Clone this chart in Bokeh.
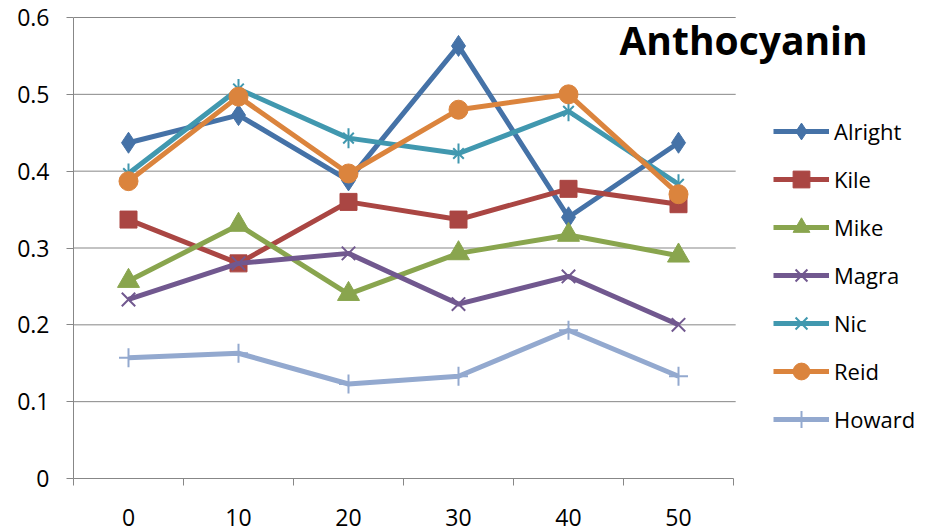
from bokeh.plotting import figure
from bokeh.models import (Range1d, FixedTicker, Legend, LegendItem, Label)
from bokeh.embed import file_html
from bokeh.resources import INLINE
import math

# Sampling points and anthocyanin readings per sample
categories = ["0", "10", "20", "30", "40", "50"]
alright = [0.437, 0.473, 0.388, 0.563, 0.340, 0.437]
kile = [0.337, 0.280, 0.360, 0.337, 0.377, 0.357]
mike = [0.257, 0.330, 0.240, 0.293, 0.317, 0.290]
magra = [0.233, 0.280, 0.293, 0.227, 0.263, 0.200]
nic = [0.397, 0.507, 0.443, 0.423, 0.478, 0.383]
reid = [0.387, 0.497, 0.397, 0.480, 0.500, 0.370]
howard = [0.157, 0.163, 0.123, 0.133, 0.193, 0.133]

y_ticks = [0, 0.1, 0.2, 0.3, 0.4, 0.5, 0.6]
y_tick_labels = ["0", "0.1", "0.2", "0.3", "0.4", "0.5", "0.6"]

FONT = "Open Sans"
GRID = "#878787"
PX_PER_CAT = 110  # horizontal pixels per category slot

xs = list(range(len(categories)))
n = len(categories)
left, top, bottom = 73, 16, 54
W, H = 932, 532

# the frame runs to the right edge so the legend and title can sit inside it;
# the category axis itself only spans the data slots
x_end = -0.5 + (W - left) / PX_PER_CAT
y_top = 0.6 + 0.6 / (H - top - bottom - 1)

p = figure(width=W, height=H, output_backend="svg", toolbar_location=None,
           x_range=Range1d(-0.5, x_end), y_range=Range1d(0, y_top),
           min_border_left=left, min_border_right=0, min_border_top=top,
           min_border_bottom=bottom)
p.outline_line_color = None
p.background_fill_color = "white"
p.border_fill_color = "white"

# y axis: outward ticks, value gridlines drawn over the category span only
p.yaxis.ticker = FixedTicker(ticks=y_ticks)
p.yaxis.bounds = (y_ticks[0], y_ticks[-1])
p.yaxis.major_label_overrides = dict(zip(y_ticks, y_tick_labels))
p.yaxis.axis_line_color = GRID
p.yaxis.major_tick_line_color = GRID
p.yaxis.major_tick_out = 7
p.yaxis.major_tick_in = 0
p.yaxis.minor_tick_line_color = None
p.yaxis.major_label_text_font = FONT
p.yaxis.major_label_text_font_size = "23px"
p.yaxis.major_label_text_color = "black"
p.yaxis.major_label_standoff = 17
p.ygrid.grid_line_color = None
p.xgrid.grid_line_color = None

grid_y = y_ticks[1:]
p.segment(x0=[-0.5] * len(grid_y), x1=[n - 0.48] * len(grid_y),
          y0=grid_y, y1=grid_y, line_color=GRID, line_width=1)

# x axis: labels at category centres, tick marks between categories
p.xaxis.ticker = FixedTicker(ticks=xs, minor_ticks=[i - 0.5 for i in range(n + 1)])
p.xaxis.bounds = (-0.5, n - 0.5)
p.xaxis.major_label_overrides = {i: c for i, c in enumerate(categories)}
p.xaxis.axis_line_color = GRID
p.xaxis.major_tick_line_color = None
p.xaxis.minor_tick_line_color = GRID
p.xaxis.minor_tick_out = 7
p.xaxis.minor_tick_in = 0
p.xaxis.major_label_text_font = FONT
p.xaxis.major_label_text_font_size = "23px"
p.xaxis.major_label_text_color = "black"
p.xaxis.major_label_standoff = 23

LW = 5
series = [
    ("Alright", alright, "#4572A7", [dict(marker="diamond", size=21)]),
    ("Kile", kile, "#AA4643", [dict(marker="square", size=17)]),
    ("Mike", mike, "#89A54E", [dict(marker="triangle", size=22)]),
    ("Magra", magra, "#71588F", [dict(marker="x", size=19, line_width=2)]),
    ("Nic", nic, "#4198AF", [dict(marker="x", size=15, line_width=2),
                             dict(marker="dash", size=20, angle=math.pi / 2, line_width=2)]),
    ("Reid", reid, "#DB843D", [dict(marker="circle", size=19)]),
    ("Howard", howard, "#93A9CF", [dict(marker="cross", size=19, line_width=2)]),
]

items = []
for name, vals, color, markers in series:
    rs = [p.line(xs, vals, line_color=color, line_width=LW, line_join="round")]
    for m in markers:
        kw = dict(m)
        lw = kw.pop("line_width", 1)
        rs.append(p.scatter(xs, vals, fill_color=color, line_color=color,
                            line_width=lw, **kw))
    items.append(LegendItem(label=name, renderers=rs))

legend = Legend(items=items, location=(700, 38), orientation="vertical",
                glyph_width=56, glyph_height=42, spacing=6, label_standoff=5,
                padding=0, margin=0, border_line_color=None,
                background_fill_alpha=0,
                label_text_font=FONT, label_text_font_size="22px",
                label_text_color="black")
p.add_layout(legend, "center")

title = Label(x=5.591, y=0.571, text="Anthocyanin", text_align="center",
              text_baseline="alphabetic", text_font=FONT, text_font_size="39px",
              text_font_style="bold", text_color="black")
p.add_layout(title)

open("out.html", "w").write(file_html(p, INLINE))
